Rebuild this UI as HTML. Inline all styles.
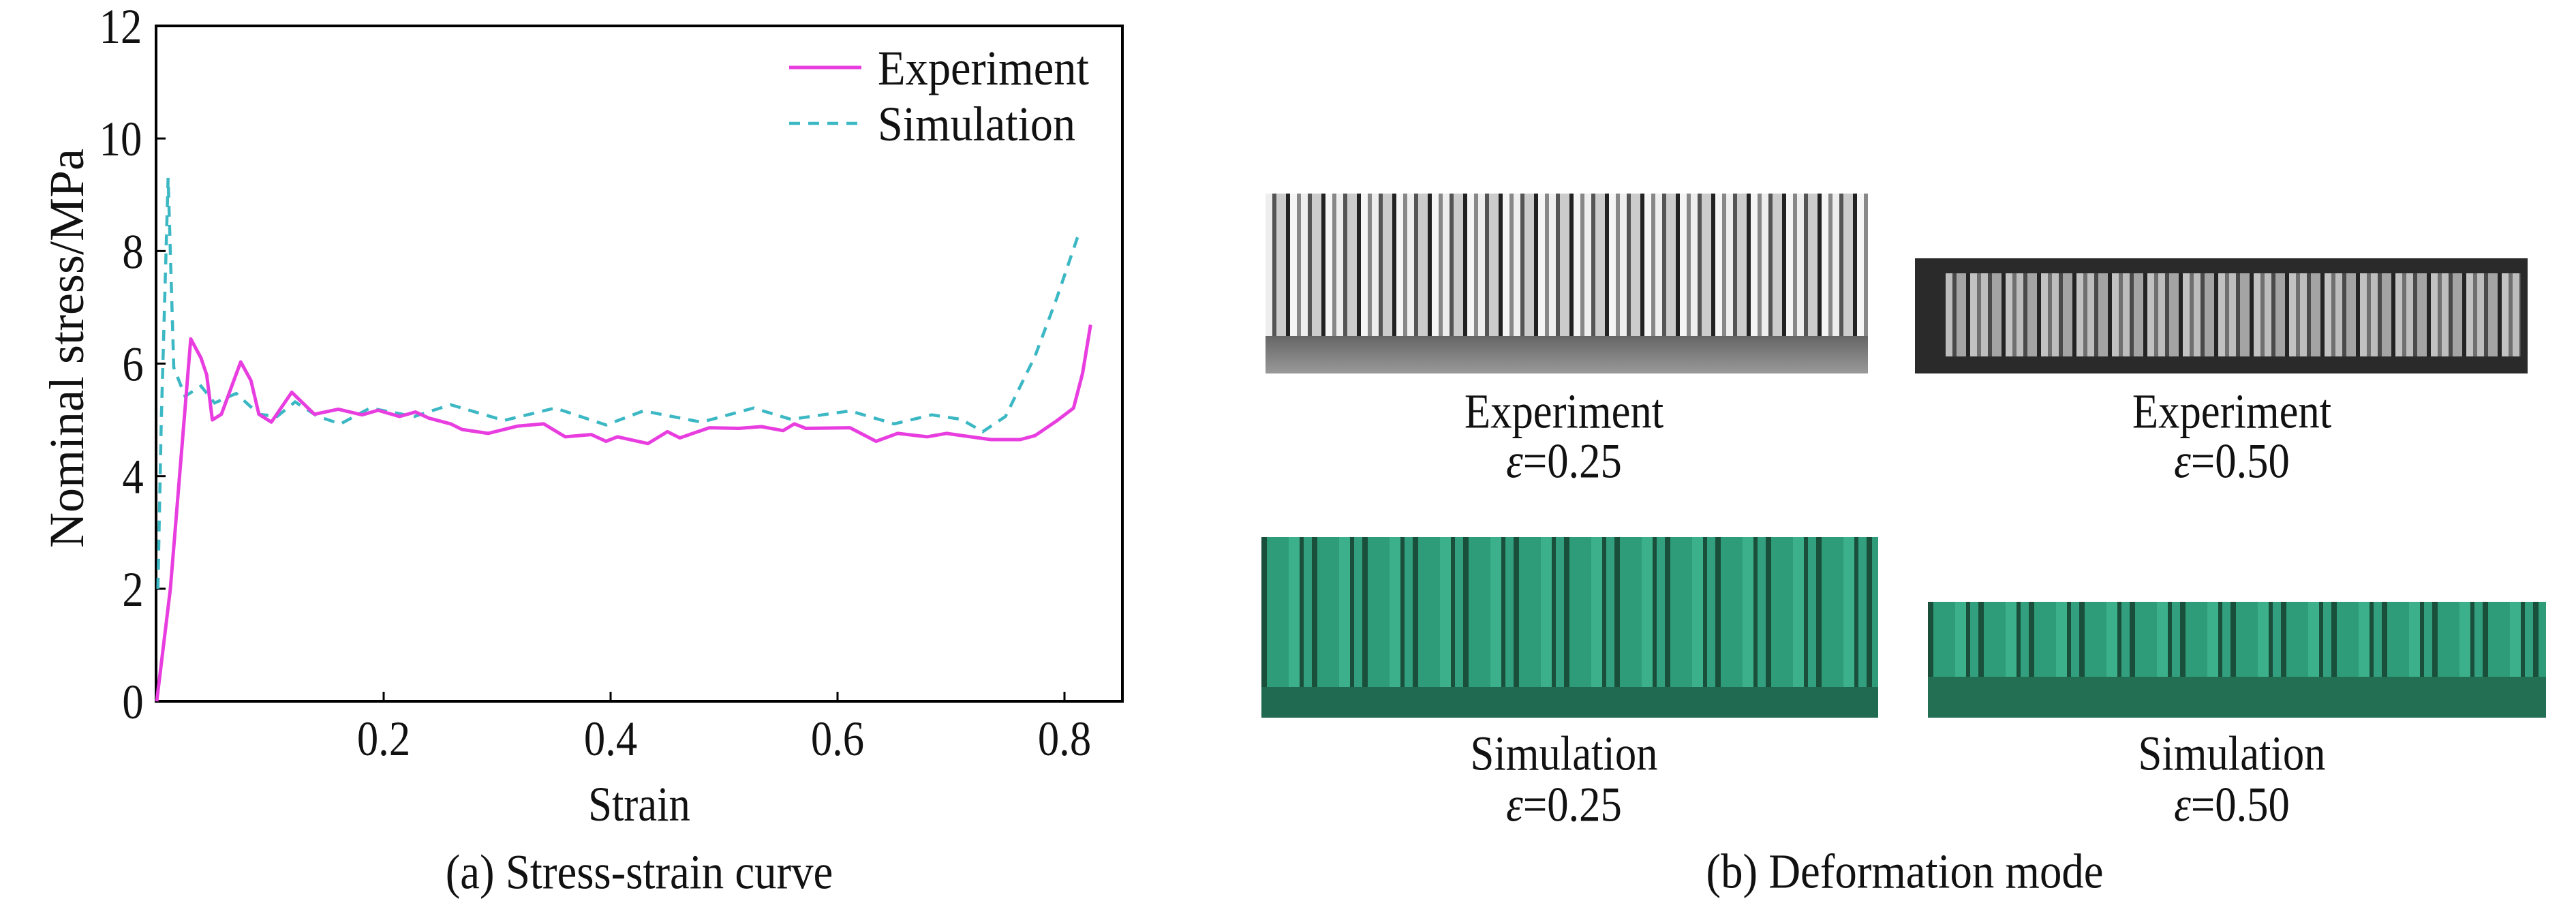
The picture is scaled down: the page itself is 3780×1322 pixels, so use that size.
<!DOCTYPE html>
<html><head><meta charset="utf-8"><style>
html,body{margin:0;padding:0;background:#fff;}
body{width:3780px;height:1321px;position:relative;overflow:hidden;font-family:"Liberation Serif",serif;}
.t{position:absolute;font-size:72px;color:#111;white-space:nowrap;transform:translate(-50%,-50%) scaleX(.87);}
.img{position:absolute;}
.exp{background:
 repeating-linear-gradient(90deg,#eee 0 10px,#555 10px 16px,#ccc 16px 30px,#222 30px 36px,#f5f5f5 36px 46px,#888 46px 52px);}
.sim{background:
 repeating-linear-gradient(90deg,#1a4f3c 0 8px,#2e9c78 8px 40px,#3bb08a 40px 56px,#1a4f3c 56px 62px,#32a07e 62px 74px);}
svg text{transform-box:fill-box;transform-origin:center;}
.sx{transform:scaleX(.87);}
</style></head><body>
<svg id="chart" width="1700" height="1321" style="position:absolute;left:0;top:0" xmlns="http://www.w3.org/2000/svg"></svg>

<div class="t" style="left:938px;top:1280px;transform:translate(-50%,-50%) scaleX(.9)">(a) Stress-strain curve</div>

<div class="img exp" style="left:1857px;top:284px;width:884px;height:264px;"><div style="position:absolute;left:0;right:0;bottom:0;height:55px;background:linear-gradient(#666,#999)"></div></div>
<div class="img" style="left:2810px;top:379px;width:899px;height:169px;background:#2a2a2a;">
 <div class="exp" style="position:absolute;left:45px;right:10px;top:22px;bottom:25px;opacity:.75"></div></div>
<div class="t" style="left:2295px;top:604px">Experiment</div>
<div class="t" style="left:2295px;top:677px"><i>ε</i>=0.25</div>
<div class="t" style="left:3275px;top:604px">Experiment</div>
<div class="t" style="left:3275px;top:677px"><i>ε</i>=0.50</div>

<div class="img sim" style="left:1851px;top:788px;width:905px;height:265px;"><div style="position:absolute;left:0;right:0;bottom:0;height:45px;background:#1f6a50"></div></div>
<div class="img sim" style="left:2829px;top:883px;width:907px;height:170px;"><div style="position:absolute;left:0;right:0;bottom:0;height:60px;background:#226f54"></div></div>
<div class="t" style="left:2295px;top:1106px">Simulation</div>
<div class="t" style="left:2295px;top:1181px"><i>ε</i>=0.25</div>
<div class="t" style="left:3275px;top:1106px">Simulation</div>
<div class="t" style="left:3275px;top:1181px"><i>ε</i>=0.50</div>
<div class="t" style="left:2795px;top:1279px;transform:translate(-50%,-50%) scaleX(.9)">(b) Deformation mode</div>

<script>
const xTicks=[0.2,0.4,0.6,0.8];
const yTicks=[0,2,4,6,8,10,12];
const expStrain=[0,0.012,0.03,0.039,0.044,0.049,0.057,0.074,0.083,0.09,0.101,0.119,0.139,0.16,0.181,0.195,0.214,0.228,0.24,0.259,0.269,0.292,0.318,0.341,0.36,0.383,0.396,0.406,0.433,0.45,0.461,0.487,0.513,0.533,0.552,0.562,0.572,0.611,0.634,0.653,0.679,0.696,0.735,0.761,0.774,0.793,0.808,0.816,0.823];
const expStress=[0,2.0,6.44,6.1,5.8,5.0,5.1,6.03,5.7,5.1,4.96,5.49,5.1,5.19,5.09,5.17,5.06,5.14,5.03,4.93,4.83,4.76,4.89,4.93,4.7,4.74,4.62,4.7,4.58,4.79,4.68,4.86,4.85,4.88,4.81,4.93,4.85,4.86,4.62,4.76,4.7,4.76,4.65,4.65,4.72,4.98,5.21,5.83,6.69];
const simStrain=[0.001,0.004,0.01,0.015,0.025,0.039,0.051,0.07,0.09,0.106,0.122,0.142,0.162,0.188,0.227,0.259,0.306,0.351,0.396,0.429,0.48,0.526,0.559,0.611,0.65,0.683,0.709,0.728,0.748,0.774,0.793,0.813];
const simStress=[2.0,5.0,9.3,5.93,5.42,5.6,5.3,5.47,5.1,5.06,5.32,5.06,4.93,5.21,5.06,5.27,4.99,5.21,4.91,5.16,4.96,5.21,5.01,5.16,4.93,5.09,5.01,4.79,5.06,6.13,7.15,8.33];

const NS='http://www.w3.org/2000/svg';
const svg=document.getElementById('chart');
const L=229,R=1647,T=38,B=1029;
const sx=v=>230+v*1665;
const sy=v=>B-(v/12)*(B-T);
function mk(tag,attrs,parent){const e=document.createElementNS(NS,tag);for(const k in attrs)e.setAttribute(k,attrs[k]);(parent||svg).appendChild(e);return e;}

const frame=mk('rect',{x:L,y:T,width:R-L,height:B-T,fill:'none',stroke:'#000','stroke-width':4});



xTicks.forEach(v=>{
 const tk=mk('line',{x1:sx(v),x2:sx(v),y1:B,y2:B-14,stroke:'#000','stroke-width':3});
 
 
 const tx=mk('text',{x:sx(v),y:1108,'text-anchor':'middle','font-size':72,'font-family':'Liberation Serif, serif',fill:'#111',class:'sx'});
 tx.textContent=v.toFixed(1);
 
 
});
yTicks.forEach(v=>{
 const tk=mk('line',{x1:L,x2:L+14,y1:sy(v),y2:sy(v),stroke:'#000','stroke-width':3});
 
 
 const tx=mk('text',{x:L-16,y:sy(v)+25,'text-anchor':'end','font-size':72,'font-family':'Liberation Serif, serif',fill:'#111',class:'sx'});
 tx.textContent=String(v);
 
 
});
const xl=mk('text',{x:938,y:1204,'text-anchor':'middle','font-size':72,'font-family':'Liberation Serif, serif',fill:'#111',class:'sx'});
xl.textContent='Strain';


const yl=mk('text',{x:0,y:0,'text-anchor':'middle','font-size':72,'font-family':'Liberation Serif, serif',fill:'#111',transform:'translate(98,535) rotate(-90)'});
yl.textContent='Nominal stress/MPa';



function path(xs,ys){return xs.map((x,i)=>(i?'L':'M')+sx(x).toFixed(1)+' '+sy(ys[i]).toFixed(1)).join(' ');}
const sim=mk('path',{d:path(simStrain,simStress),fill:'none',stroke:'#3cb8c4','stroke-width':4.5,'stroke-dasharray':'16 12'});


const ex=mk('path',{d:path(expStrain,expStress),fill:'none',stroke:'#e83ee0','stroke-width':5,'stroke-linejoin':'round'});



const g1=mk('g',{});


mk('line',{x1:1158,x2:1264,y1:99,y2:99,stroke:'#e83ee0','stroke-width':5},g1);
const t1=mk('text',{x:1288,y:124,'font-size':72,'font-family':'Liberation Serif, serif',fill:'#111',textLength:310,lengthAdjust:'spacingAndGlyphs'},g1);t1.textContent='Experiment';
const g2=mk('g',{});


mk('line',{x1:1158,x2:1264,y1:181,y2:181,stroke:'#3cb8c4','stroke-width':4.5,'stroke-dasharray':'16 12'},g2);
const t2=mk('text',{x:1288,y:206,'font-size':72,'font-family':'Liberation Serif, serif',fill:'#111',textLength:290,lengthAdjust:'spacingAndGlyphs'},g2);t2.textContent='Simulation';
</script>
</body></html>
